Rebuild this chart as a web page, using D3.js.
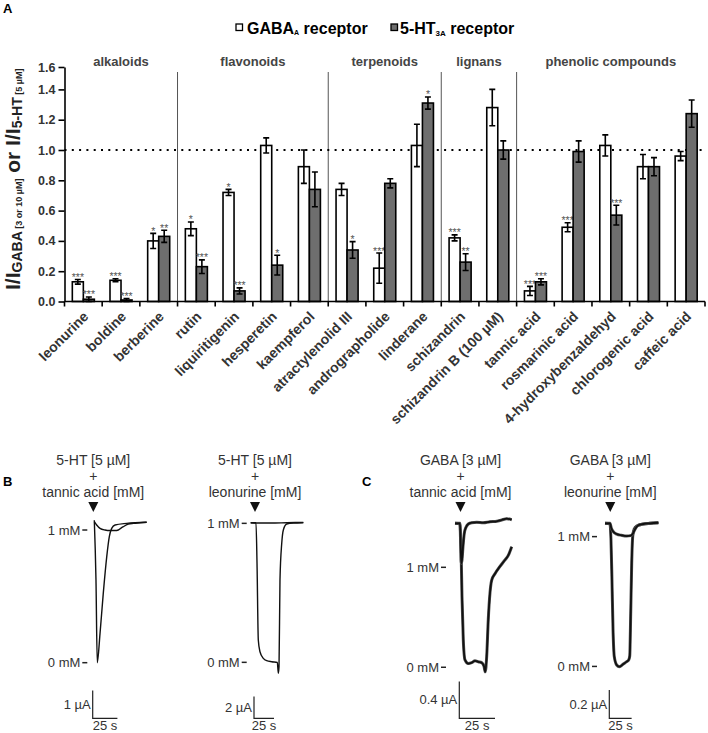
<!DOCTYPE html>
<html>
<head>
<meta charset="utf-8">
<script src="https://cdn.jsdelivr.net/npm/d3@7"></script>
<style>
  body { margin: 0; background: #fff; }
  svg text { font-family: "Liberation Sans", Arial, sans-serif; }
</style>
</head>
<body>
<svg id="fig" width="708" height="733"></svg>
<script>
// ---------- panel A data ----------
const compounds = ['leonurine', 'boldine', 'berberine', 'rutin', 'liquiritigenin', 'hesperetin',
  'kaempferol', 'atractylenolid III', 'andrographolide', 'linderane', 'schizandrin',
  'schizandrin B (100 µM)', 'tannic acid', 'rosmarinic acid', '4-hydroxybenzaldehyd',
  'chlorogenic acid', 'caffeic acid'];
const gabaMean = [0.13, 0.14, 0.40, 0.48, 0.72, 1.03, 0.89, 0.74, 0.22, 1.03, 0.42, 1.28, 0.07, 0.49, 1.03, 0.89, 0.96];
const gabaSem = [0.015, 0.01, 0.05, 0.045, 0.02, 0.05, 0.11, 0.04, 0.10, 0.14, 0.02, 0.12, 0.03, 0.03, 0.07, 0.08, 0.03];
const htMean = [0.015, 0.01, 0.43, 0.23, 0.07, 0.24, 0.74, 0.34, 0.78, 1.31, 0.26, 1.00, 0.13, 0.99, 0.57, 0.89, 1.24];
const htSem = [0.015, 0.01, 0.04, 0.045, 0.02, 0.065, 0.115, 0.055, 0.03, 0.04, 0.055, 0.06, 0.02, 0.07, 0.065, 0.06, 0.09];
const gabaStars = ['***', '***', '*', '*', '*', '', '', '', '***', '', '***', '', '***', '***', '', '', ''];
const htStars = ['***', '***', '**', '***', '***', '*', '', '*', '', '*', '**', '', '***', '', '***', '', ''];
const groupNames = ['alkaloids', 'flavonoids', 'terpenoids', 'lignans', 'phenolic compounds'];
const groupStarts = [0, 3, 7, 10, 12]; // index of first compound in each group
const yTicks = [0, 0.2, 0.4, 0.6, 0.8, 1.0, 1.2, 1.4, 1.6];

// ---------- panels B / C traces: [time s, current µA] ----------
const bTannic0 = [[0, 0.05], [1.7, -2.1], [3.0, -5.09], [5.8, -4.03], [9.1, -2.58], [12.6, -1.26], [15.2, -0.54],
  [17.6, -0.24], [21, -0.12], [32.8, -0.06], [53, -0.02]];
const bTannic1 = [[0, 0], [2.4, -0.12], [5.8, -0.24], [10.8, -0.30], [15.9, -0.32], [21, -0.32], [24.3, -0.30],
  [26.7, -0.24], [29.4, -0.18], [34.4, -0.09], [39.5, -0.06], [46.3, -0.04], [53, -0.02]];
const bLeon0 = [[0, 0], [6.6, 0], [7.9, -3.74], [9.5, -10.81], [11.6, -11.89], [15.8, -12.5], [20, -12.72],
  [26.3, -12.81], [33.3, -12.87], [34.5, -13.88], [35.4, -13.27], [36.6, -5.28], [38.8, -1.9], [40.8, -0.67],
  [45, -0.12], [53.3, -0.03], [65.8, 0]];
const bLeon1 = [[0, 0], [7, -0.03], [25, -0.03], [45, 0], [65.8, 0.03]];
const cTannic0 = [[0, 0], [3.5, -0.008], [4.2, -0.255], [4.9, -0.8], [5.8, -1.27], [7, -1.49], [9.3, -1.53],
  [11.7, -1.52], [14, -1.5], [16.3, -1.51], [18.7, -1.52], [20.3, -1.56], [21.2, -1.62], [22.2, -1.45],
  [23.3, -1.05], [24.5, -0.76], [25.7, -0.62], [28, -0.55], [31.5, -0.47], [35, -0.4], [37.3, -0.35], [39.7, -0.255]];
const cTannic1 = [[0, 0], [3.5, 0], [4, -0.255], [4.4, -0.436], [4.9, -0.4], [5.6, -0.255], [6.5, -0.11],
  [7.7, -0.044], [9.3, -0.008], [11.7, 0.007], [15.2, 0.011], [19.8, 0.007], [24.5, 0.017], [29.2, 0.022],
  [32.7, 0.036], [36.2, 0.05], [39.7, 0.039]];
const cLeon0 = [[0, 0], [5.6, -0.005], [6.7, -0.118], [7.8, -0.4], [9, -0.753], [10.4, -0.941], [13.1, -1],
  [16, -1.012], [20.5, -0.993], [24.3, -0.976], [26.5, -0.964], [27.7, -0.936], [28.8, -0.635], [29.9, -0.282],
  [31, -0.095], [32.5, -0.042], [35.5, -0.019], [42.9, -0.005], [50.4, 0], [59.7, 0.004]];
const cLeon1 = [[0, 0], [5.6, 0], [7.1, -0.035], [9.3, -0.059], [13.1, -0.076], [18.7, -0.085], [24.3, -0.09],
  [28.8, -0.087], [31, -0.076], [33.6, -0.042], [37.3, -0.014], [42.9, -0.005], [50.4, 0], [59.7, 0.004]];

const svg = d3.select('#fig');
const textCol = '#333';

// ======================= panel A ==========================
const left = 64.5, right = 705, baseY = 301.5;
const x0 = d3.scaleBand().domain(compounds).range([left, right]);
const x1 = d3.scaleBand().domain(['gaba', 'ht']).range([0, x0.bandwidth()]).paddingOuter(0.71);
const y = d3.scaleLinear().domain([0, 1.4, 1.6]).range([baseY, 89.4, 67]);

svg.append('text').attr('x', 3).attr('y', 13).attr('font-size', 13).attr('font-weight', 'bold').text('A');

// legend
const leg = svg.append('g').attr('font-weight', 'bold').attr('font-size', 16);
leg.append('rect').attr('x', 236).attr('y', 24).attr('width', 6.5).attr('height', 6.5)
  .attr('fill', '#fff').attr('stroke', '#000').attr('stroke-width', 1.3);
const l1 = leg.append('text').attr('x', 247).attr('y', 34);
l1.append('tspan').text('GABA');
l1.append('tspan').attr('font-size', 7).attr('dy', 1).text('A');
l1.append('tspan').attr('dy', -1).text(' receptor');
leg.append('rect').attr('x', 391).attr('y', 24).attr('width', 6.5).attr('height', 6.5)
  .attr('fill', '#6e6e6e').attr('stroke', '#000').attr('stroke-width', 1.3);
const l2 = leg.append('text').attr('x', 400).attr('y', 34);
l2.append('tspan').text('5-HT');
l2.append('tspan').attr('font-size', 8).attr('dy', 2).text('3A');
l2.append('tspan').attr('dy', -2).text(' receptor');

// group separators and names
const groupEnds = groupStarts.slice(1).concat([compounds.length]);
groupStarts.slice(1).forEach(i => {
  const gx = x0(compounds[i]);
  svg.append('line').attr('x1', gx).attr('x2', gx).attr('y1', 72).attr('y2', baseY)
    .attr('stroke', '#555').attr('stroke-width', 1);
});
groupNames.forEach((name, k) => {
  const a = x0(compounds[groupStarts[k]]);
  const b = x0(compounds[groupEnds[k] - 1]) + x0.bandwidth();
  svg.append('text').attr('x', (a + b) / 2).attr('y', 66).attr('text-anchor', 'middle')
    .attr('font-size', 13).attr('font-weight', 'bold').attr('fill', '#444').text(name);
});

// reference line at 1.0
svg.append('line').attr('x1', left).attr('x2', right).attr('y1', y(1)).attr('y2', y(1))
  .attr('stroke', '#000').attr('stroke-width', 2).attr('stroke-dasharray', '2,5.3');

// bars
const rows = compounds.map((c, i) => ({
  c,
  vals: [
    { key: 'gaba', m: gabaMean[i], e: gabaSem[i], s: gabaStars[i], fill: '#fff' },
    { key: 'ht', m: htMean[i], e: htSem[i], s: htStars[i], fill: '#6e6e6e' }
  ]
}));
const grp = svg.append('g').selectAll('g').data(rows).join('g')
  .attr('transform', d => `translate(${x0(d.c)},0)`);
const bar = grp.selectAll('g').data(d => d.vals).join('g')
  .attr('transform', d => `translate(${x1(d.key)},0)`);
const bw = x1.bandwidth();
bar.append('rect')
  .attr('x', 0).attr('width', bw)
  .attr('y', d => y(d.m)).attr('height', d => baseY - y(d.m))
  .attr('fill', d => d.fill).attr('stroke', '#000').attr('stroke-width', 1.6);
bar.append('path')
  .attr('d', d => {
    const c = bw / 2, t = y(d.m + d.e), b = y(Math.max(0, d.m - d.e));
    return `M${c},${b}V${t}M${c - 3},${t}H${c + 3}M${c - 3},${b}H${c + 3}`;
  })
  .attr('stroke', '#000').attr('stroke-width', 1.6).attr('fill', 'none');
bar.filter(d => d.s).append('text')
  .attr('x', bw / 2).attr('y', d => y(d.m + d.e) + 1.5)
  .attr('text-anchor', 'middle').attr('font-size', 10.5).attr('fill', '#555').text(d => d.s);

// y axis
const yAxis = svg.append('g').attr('transform', `translate(${left},0)`)
  .call(d3.axisLeft(y).tickValues(yTicks).tickFormat(d3.format('.1f')).tickSize(6).tickPadding(3).tickSizeOuter(0));
yAxis.select('.domain').attr('stroke', '#000').attr('stroke-width', 1.6);
yAxis.selectAll('.tick line').attr('stroke', '#000').attr('stroke-width', 1.6);
yAxis.selectAll('.tick text').attr('font-size', 12.5).attr('font-weight', 'bold').attr('fill', textCol)
  .style('font-family', '"Liberation Sans", Arial, sans-serif');

// y axis title
const yl = svg.append('text').attr('transform', 'translate(20,290) rotate(-90)')
  .attr('font-weight', 'bold').attr('fill', '#222');
yl.append('tspan').attr('font-size', 21).text('I/I');
yl.append('tspan').attr('font-size', 14).attr('dy', 2).text('GABA');
yl.append('tspan').attr('font-size', 9).text(' [3 or 10 µM]');
yl.append('tspan').attr('font-size', 21).attr('dy', -2).text(' or I/I');
yl.append('tspan').attr('font-size', 14).attr('dy', 2).text('5-HT');
yl.append('tspan').attr('font-size', 9).text(' [5 µM]');

// x axis with ticks at category boundaries
svg.append('line').attr('x1', left).attr('x2', right).attr('y1', baseY).attr('y2', baseY)
  .attr('stroke', '#000').attr('stroke-width', 1.6);
const bounds = compounds.map(c => x0(c)).concat([x0.range()[1]]);
svg.append('g').selectAll('line').data(bounds).join('line')
  .attr('x1', d => d).attr('x2', d => d).attr('y1', baseY).attr('y2', baseY + 5)
  .attr('stroke', '#000').attr('stroke-width', 1.6);
svg.append('g').selectAll('text').data(compounds).join('text')
  .attr('transform', c => `translate(${x0(c) + x0.bandwidth() / 2 + 6},${baseY + 16}) rotate(-45)`)
  .attr('text-anchor', 'end').attr('font-size', 14).attr('font-weight', 'bold').attr('fill', textCol)
  .text(c => c);

// ======================= panels B, C ==========================
const tracePanels = [
  { letter: 'B', lx: 3, header: ['5-HT [5 µM]', '+', 'tannic acid [mM]'], app: -1,
    t0x: 94.3, base: 521.7, pxS: 0.988, pxA: 27.7, noisy: false,
    traces: [bTannic0, bTannic1], levels: [['1 mM', -0.30], ['0 mM', -5.09]], tickEnd: 87.3,
    barX: 92.7, barUA: 1, barTxt: '1 µA' },
  { header: ['5-HT [5 µM]', '+', 'leonurine [mM]'], app: 5.4,
    t0x: 250.7, base: 522.7, pxS: 0.8, pxA: 10.85, noisy: false,
    traces: [bLeon0, bLeon1], levels: [['1 mM', -0.06], ['0 mM', -12.87]], tickEnd: 246.7,
    barX: 254, barUA: 2, barTxt: '2 µA' },
  { letter: 'C', lx: 362, header: ['GABA [3 µM]', '+', 'tannic acid [mM]'], app: 3.85,
    t0x: 455, base: 523.3, pxS: 1.428, pxA: 91.7, noisy: true,
    traces: [cTannic0, cTannic1], levels: [['1 mM', -0.48], ['0 mM', -1.57]], tickEnd: 446,
    barX: 459.3, barUA: 0.4, barTxt: '0.4 µA' },
  { header: ['GABA [3 µM]', '+', 'leonurine [mM]'], app: 5.9,
    t0x: 605, base: 523.3, pxS: 0.893, pxA: 141.7, noisy: true,
    traces: [cLeon0, cLeon1], levels: [['1 mM', -0.094], ['0 mM', -1.01]], tickEnd: 597,
    barX: 609.3, barUA: 0.2, barTxt: '0.2 µA' }
];
const barY = 718.3;

tracePanels.forEach(p => {
  const tx = d3.scaleLinear().domain([0, 1]).range([p.t0x, p.t0x + p.pxS]);
  const ty = d3.scaleLinear().domain([0, -1]).range([p.base, p.base + p.pxA]);
  const g = svg.append('g');
  const cx = tx(p.app);

  if (p.letter) {
    g.append('text').attr('x', p.lx).attr('y', 486).attr('font-size', 13).attr('font-weight', 'bold').text(p.letter);
  }
  p.header.forEach((h, k) => {
    g.append('text').attr('x', cx).attr('y', 465 + k * 16).attr('text-anchor', 'middle')
      .attr('font-size', 14).attr('fill', textCol).text(h);
  });
  g.append('path').attr('d', `M${cx - 5},502L${cx + 5},502L${cx},512Z`).attr('fill', '#111');

  const line = d3.line().x(d => tx(d[0])).y(d => ty(d[1])).curve(d3.curveMonotoneX);
  p.traces.forEach(tr => {
    // recorded (noisy) traces get a soft dark halo under the line
    if (p.noisy) {
      g.append('path').attr('d', line(tr)).attr('fill', 'none')
        .attr('stroke', '#555').attr('stroke-width', 3).attr('stroke-linejoin', 'round');
    }
    g.append('path').attr('d', line(tr)).attr('fill', 'none')
      .attr('stroke', '#111').attr('stroke-width', p.noisy ? 1.8 : 1.4).attr('stroke-linejoin', 'round');
  });

  p.levels.forEach(([lab, v]) => {
    g.append('line').attr('x1', p.tickEnd - 5).attr('x2', p.tickEnd).attr('y1', ty(v)).attr('y2', ty(v))
      .attr('stroke', '#222').attr('stroke-width', 1.5);
    g.append('text').attr('x', p.tickEnd - 7).attr('y', ty(v)).attr('dy', '0.35em')
      .attr('text-anchor', 'end').attr('font-size', 13).attr('fill', textCol).text(lab);
  });

  // scale bars
  const vLen = ty(-p.barUA) - ty(0);
  const hLen = tx(25) - tx(0);
  g.append('path').attr('d', `M${p.barX},${barY - vLen}V${barY}H${p.barX + hLen}`)
    .attr('fill', 'none').attr('stroke', '#222').attr('stroke-width', 1.2);
  g.append('text').attr('x', p.barX - 2).attr('y', barY - vLen / 2 + 4.5).attr('text-anchor', 'end')
    .attr('font-size', 13).attr('fill', textCol).text(p.barTxt);
  g.append('text').attr('x', p.barX + hLen / 2).attr('y', 729.5).attr('text-anchor', 'middle')
    .attr('font-size', 13).attr('fill', textCol).text('25 s');
});
</script>
</body>
</html>
